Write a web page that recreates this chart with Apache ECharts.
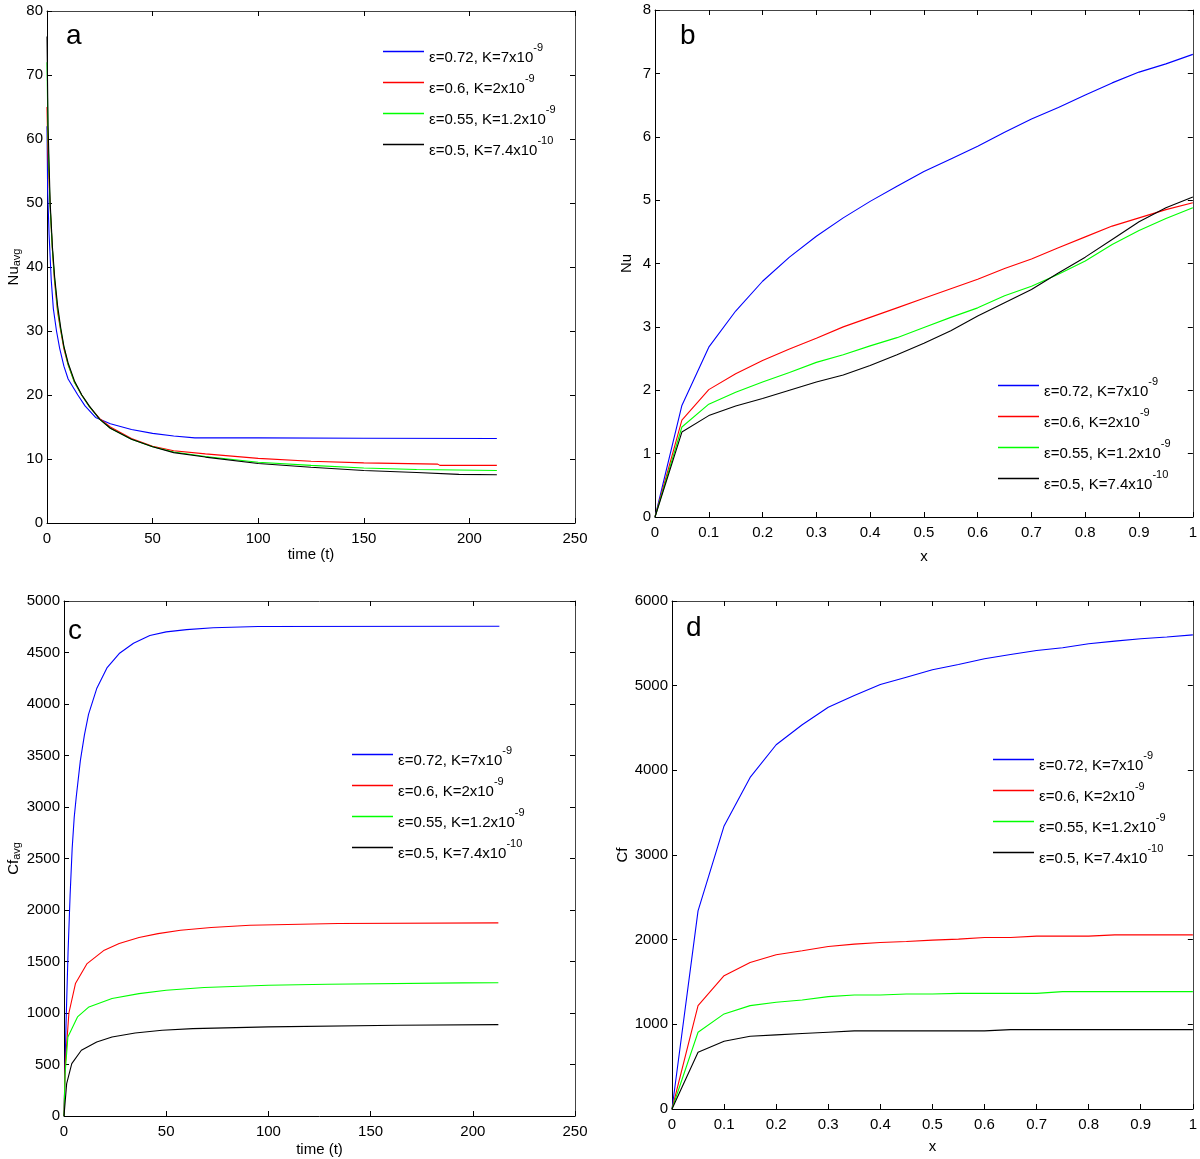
<!DOCTYPE html>
<html><head><meta charset="utf-8">
<script src="https://cdn.jsdelivr.net/npm/echarts@6/dist/echarts.min.js"></script>
<style>html,body{margin:0;padding:0;background:#fff}#c{width:1200px;height:1159px}</style>
</head><body><div id="c"></div><script>
// ---------- legend names ----------
const seriesNames = ['ε=0.72, K=7x10^-9', 'ε=0.6, K=2x10^-9', 'ε=0.55, K=1.2x10^-9', 'ε=0.5, K=7.4x10^-10'];
const seriesColors = ['#0000ff', '#ff0000', '#00ff00', '#000000'];

// ---------- panel a: Nu_avg vs time ----------
const nuAvgBlue = [[0,62],[0.3,52],[1,45],[2,38],[3,33.5],[4.5,30],[6,27.3],[8,24.5],[10,22.5],[14.6,20],[18,18.3],[23,16.5],[30,15.5],[40,14.6],[50,14.0],[60,13.6],[70,13.3],[100,13.3],[150,13.25],[213,13.2]];
const nuAvgRed = [[0,65],[0.5,57],[1.4,50],[2.5,43],[3.5,38],[5,33],[6.5,30],[8,27.2],[10,24.7],[13,22],[16.4,20],[20,18.2],[25,16.3],[30,15.0],[40,13.2],[50,12.0],[60,11.3],[75,10.8],[100,10.1],[125,9.65],[150,9.4],[185,9.2],[186,9.0],[213,9.0]];
const nuAvgGreen = [[0,72],[0.5,60],[1.4,50],[2.5,43],[3.5,38.5],[5,33.5],[6.5,30.2],[8,27.5],[10,24.8],[13,22],[16.4,20],[20,18.2],[25,16.2],[30,14.8],[40,13.1],[50,11.9],[60,11.1],[75,10.4],[100,9.5],[125,9.0],[150,8.6],[175,8.35],[213,8.2]];
const nuAvgBlack = [[0,76],[0.5,62],[1.5,50],[2.6,43],[3.6,38.5],[5,34],[6.5,30.5],[8,27.6],[10,25],[13,22.2],[16.5,20],[20,18.3],[25,16.2],[30,14.8],[40,13.1],[50,11.9],[60,11.0],[75,10.3],[100,9.3],[125,8.7],[150,8.2],[175,7.9],[195,7.6],[213,7.55]];

// ---------- panel b: Nu vs x ----------
const xGrid = [0,0.05,0.1,0.15,0.2,0.25,0.3,0.35,0.4,0.45,0.5,0.55,0.6,0.65,0.7,0.75,0.8,0.85,0.9,0.95,1];
const nuBlue = [0,1.76,2.68,3.25,3.72,4.1,4.43,4.72,4.98,5.22,5.45,5.65,5.85,6.07,6.28,6.46,6.66,6.85,7.02,7.15,7.3];
const nuRed = [0,1.53,2.01,2.26,2.47,2.65,2.82,3.0,3.15,3.3,3.45,3.6,3.75,3.92,4.07,4.25,4.42,4.59,4.72,4.85,4.96];
const nuGreen = [0,1.42,1.78,1.97,2.13,2.28,2.44,2.56,2.7,2.83,2.99,3.15,3.3,3.49,3.64,3.83,4.04,4.3,4.52,4.71,4.88];
const nuBlack = [0,1.34,1.6,1.75,1.87,2.0,2.13,2.24,2.39,2.56,2.74,2.94,3.17,3.38,3.59,3.85,4.1,4.38,4.66,4.88,5.05];

// ---------- panel c: Cf_avg vs time ----------
const cfAvgBlue = [[0,0],[1,900],[2,1600],[3,2150],[4,2600],[5,2900],[6,3100],[8,3450],[10,3700],[12,3900],[16,4150],[21,4350],[27,4490],[34,4590],[42,4665],[50,4700],[60,4722],[73,4740],[95,4753],[213,4755]];
const cfAvgRed = [[0,0],[0.6,500],[2.4,1000],[5.6,1286],[11.3,1480],[19.7,1610],[27,1674],[36.7,1733],[46,1771],[57,1804],[72,1830],[91,1852],[134,1869],[212.5,1875]];
const cfAvgGreen = [[0,0],[0.5,400],[1.9,767],[6.6,962],[12.2,1059],[23.5,1140],[36.7,1188],[50,1221],[68.6,1247],[100,1269],[129,1279],[195,1292],[212.5,1293]];
const cfAvgBlack = [[0,0],[1.3,314],[3.8,508],[8.5,638],[16,719],[23.5,767],[34.8,806],[48,832],[63,848],[100,865],[163,881],[212.5,887]];

// ---------- panel d: Cf vs x ----------
const cfBlue = [0,2340,3343,3916,4302,4539,4745,4883,5013,5100,5187,5250,5317,5368,5416,5447,5495,5526,5554,5574,5600];
const cfRed = [0,1221,1574,1731,1822,1869,1920,1947,1967,1979,1995,2006,2026,2026,2042,2042,2042,2057,2057,2057,2057];
const cfGreen = [0,907,1123,1221,1260,1288,1327,1347,1347,1358,1358,1366,1366,1366,1366,1386,1386,1386,1386,1386,1386];
const cfBlack = [0,671,801,860,875,891,907,923,923,923,923,923,923,938,938,938,938,938,938,938,938];

// ---------- build ----------
const FONT = '"Liberation Sans", Arial, sans-serif';
const pair = (xs, ys) => xs.map((x, i) => [x, ys[i]]);
const fmt = v => String(+(+v).toFixed(6));

const panels = [
  { grid: {left:47, top:11, width:528, height:512}, x:[0,250,50], y:[0,80,10], xName:'time (t)', xGap:24, yName:'{a|Nu}{b|avg}', yGap:22,
    data:[nuAvgBlue, nuAvgRed, nuAvgGreen, nuAvgBlack], legend:{left:378, top:33}, letter:{t:'a', x:66, y:22} },
  { grid: {left:655, top:10, width:542, height:507}, x:[0,1,0.1], y:[0,8,1], xName:'x', xGap:32, yName:'{a|Nu}', yGap:20,
    data:[pair(xGrid,nuBlue), pair(xGrid,nuRed), pair(xGrid,nuGreen), pair(xGrid,nuBlack)], legend:{left:993, top:367}, letter:{t:'b', x:680, y:22} },
  { grid: {left:64, top:601, width:511, height:515}, x:[0,250,50], y:[0,5000,500], xName:'time (t)', xGap:26, yName:'{a|Cf}{b|avg}', yGap:40,
    data:[cfAvgBlue, cfAvgRed, cfAvgGreen, cfAvgBlack], legend:{left:347, top:736}, letter:{t:'c', x:68, y:617} },
  { grid: {left:672, top:601, width:525, height:508}, x:[0,1,0.1], y:[0,6000,1000], xName:'x', xGap:30, yName:'{a|Cf}', yGap:40,
    data:[pair(xGrid,cfBlue), pair(xGrid,cfRed), pair(xGrid,cfGreen), pair(xGrid,cfBlack)], legend:{left:988, top:741}, letter:{t:'d', x:686, y:614} }
];

const grids = [], xAxes = [], yAxes = [], series = [], legends = [], graphics = [];
const lineC = '#000';
const richName = {
  a: {fontFamily: FONT, fontSize: 15, color: '#000', verticalAlign: 'top', lineHeight: 16},
  b: {fontFamily: FONT, fontSize: 11, color: '#000', verticalAlign: 'bottom', lineHeight: 11, padding: [10,0,0,0]}
};
panels.forEach((p, gi) => {
  grids.push(Object.assign({containLabel:false}, p.grid));
  const common = (r) => ({min:r[0], max:r[1], interval:r[2]});
  xAxes.push(Object.assign({type:'value', gridIndex:gi, position:'bottom',
    name:p.xName, nameLocation:'middle', nameGap:p.xGap,
    nameTextStyle:{fontFamily:FONT, fontSize:15, color:'#000'},
    axisLine:{show:true, onZero:false, lineStyle:{color:lineC, width:1}},
    axisTick:{show:true, inside:true, length:5, lineStyle:{color:lineC}},
    axisLabel:{show:true, fontFamily:FONT, fontSize:15, color:'#000', margin:8, formatter:fmt},
    splitLine:{show:false}}, common(p.x)));
  xAxes.push(Object.assign({type:'value', gridIndex:gi, position:'top',
    axisLine:{show:true, onZero:false, lineStyle:{color:'#444', width:1}},
    axisTick:{show:true, inside:true, length:5, lineStyle:{color:lineC}},
    axisLabel:{show:false}, splitLine:{show:false}}, common(p.x)));
  yAxes.push(Object.assign({type:'value', gridIndex:gi, position:'left',
    name:p.yName, nameLocation:'middle', nameGap:p.yGap, nameRotate:90,
    nameTextStyle:{rich:richName},
    axisLine:{show:true, onZero:false, lineStyle:{color:lineC, width:1}},
    axisTick:{show:true, inside:true, length:5, lineStyle:{color:lineC}},
    axisLabel:{show:true, fontFamily:FONT, fontSize:15, color:'#000', margin:4, formatter:fmt},
    splitLine:{show:false}}, common(p.y)));
  yAxes.push(Object.assign({type:'value', gridIndex:gi, position:'right',
    axisLine:{show:true, onZero:false, lineStyle:{color:'#444', width:1}},
    axisTick:{show:true, inside:true, length:5, lineStyle:{color:lineC}},
    axisLabel:{show:false}, splitLine:{show:false}}, common(p.y)));
  p.data.forEach((d, si) => {
    series.push({type:'line', name:seriesNames[si], xAxisIndex:gi*2, yAxisIndex:gi*2,
      data:d, showSymbol:false, symbol:'none', color:seriesColors[si],
      lineStyle:{width:1.1, color:seriesColors[si]}, silent:true, animation:false, z:3});
  });
  legends.push({data:seriesNames, left:p.legend.left, top:p.legend.top, orient:'vertical',
    icon:'rect', itemWidth:41, itemHeight:1.3, itemGap:4, selectedMode:false,
    formatter: name => { const k = name.split('^'); return '{n|' + k[0] + '}{s|' + k[1] + '}'; },
    textStyle:{rich:{
      n:{fontFamily:FONT, fontSize:15, color:'#000', lineHeight:16, padding:[12,0,0,0]},
      s:{fontFamily:FONT, fontSize:11, color:'#000', lineHeight:11, padding:[0,0,8,0]}
    }}});
  graphics.push({type:'text', left:p.letter.x, top:p.letter.y, style:{text:p.letter.t, fontFamily:FONT, fontSize:28, fill:'#000'}});
});

const chart = echarts.init(document.getElementById('c'), null, {renderer:'canvas'});
chart.setOption({
  backgroundColor:'#fff', animation:false,
  grid:grids, xAxis:xAxes, yAxis:yAxes, series:series, legend:legends, graphic:graphics
});
</script></body></html>
